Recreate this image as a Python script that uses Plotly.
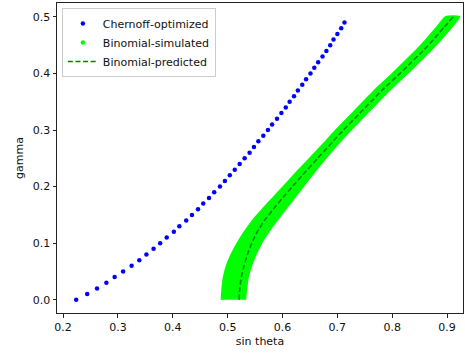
import plotly.graph_objects as go

# Chernoff-optimized
cher_gamma = [0.00, 0.01, 0.02, 0.03, 0.04, 0.05, 0.06, 0.07, 0.08, 0.09,
              0.10, 0.11, 0.12, 0.13, 0.14, 0.15, 0.16, 0.17, 0.18, 0.19,
              0.20, 0.21, 0.22, 0.23, 0.24, 0.25, 0.26, 0.27, 0.28, 0.29,
              0.30, 0.31, 0.32, 0.33, 0.34, 0.35, 0.36, 0.37, 0.38, 0.39,
              0.40, 0.41, 0.42, 0.43, 0.44, 0.45, 0.46, 0.47, 0.48, 0.49]
cher_sin = [0.224, 0.244, 0.262, 0.279, 0.294, 0.3095, 0.325, 0.339, 0.352, 0.365,
            0.377, 0.389, 0.402, 0.412, 0.4245, 0.435, 0.446, 0.4555, 0.466, 0.4755,
            0.486, 0.495, 0.504, 0.513, 0.522, 0.531, 0.540, 0.548, 0.556, 0.565,
            0.5735, 0.581, 0.590, 0.598, 0.606, 0.613, 0.621, 0.628, 0.636, 0.643,
            0.651, 0.658, 0.665, 0.673, 0.680, 0.687, 0.693, 0.700, 0.707, 0.713]

# Binomial-simulated (extent of the dense cloud of simulated points)
sim_gamma = [0.00, 0.02, 0.04, 0.06, 0.08, 0.10, 0.12, 0.14, 0.16, 0.18,
             0.20, 0.22, 0.25, 0.28, 0.30, 0.33, 0.35, 0.37, 0.40, 0.42,
             0.44, 0.46, 0.48, 0.50]
sim_left = [0.489, 0.4905, 0.493, 0.4985, 0.507, 0.518, 0.531, 0.546, 0.564, 0.583,
            0.602, 0.621, 0.650, 0.679, 0.698, 0.728, 0.748, 0.768, 0.801, 0.822,
            0.843, 0.862, 0.880, 0.898]
sim_right = [0.532, 0.534, 0.537, 0.543, 0.551, 0.561, 0.574, 0.589, 0.605, 0.621,
             0.637, 0.653, 0.678, 0.705, 0.724, 0.754, 0.774, 0.794, 0.827, 0.848,
             0.869, 0.888, 0.906, 0.922]

# Binomial-predicted
pred_gamma = sim_gamma
pred_sin = [0.521, 0.522, 0.525, 0.530, 0.536, 0.544, 0.554, 0.567, 0.583, 0.600,
            0.618, 0.636, 0.664, 0.692, 0.711, 0.741, 0.761, 0.781, 0.814, 0.835,
            0.856, 0.875, 0.893, 0.911]

x_ticks = [0.2, 0.3, 0.4, 0.5, 0.6, 0.7, 0.8, 0.9]
y_ticks = [0.0, 0.1, 0.2, 0.3, 0.4, 0.5]

FONT = "DejaVu Sans"
FS = 11

fig = go.Figure()
fig.add_trace(go.Scatter(
    x=cher_sin, y=cher_gamma, mode="markers", name="Chernoff-optimized",
    marker=dict(color="#0000ff", size=4.5, line=dict(width=0)),
))
fig.add_trace(go.Scatter(
    x=sim_left + sim_right[::-1], y=sim_gamma + sim_gamma[::-1],
    mode="lines", fill="toself", fillcolor="#00ff00",
    line=dict(color="#00ff00", width=2, shape="spline", smoothing=0.5),
    showlegend=False, hoverinfo="skip",
))
fig.add_trace(go.Scatter(
    x=[None], y=[None], mode="markers", name="Binomial-simulated",
    marker=dict(color="#00ff00", size=4.5),
))
fig.add_trace(go.Scatter(
    x=pred_sin, y=pred_gamma, mode="lines", name="Binomial-predicted",
    line=dict(color="#008000", width=1.5, dash="5px,2.6px", shape="spline", smoothing=0.5),
))

axis_common = dict(
    showgrid=False, zeroline=False, showline=True, mirror=True,
    linecolor="#222222", linewidth=1, ticks="outside", ticklen=3.5,
    tickwidth=1, tickcolor="#222222",
    tickfont=dict(family=FONT, size=FS, color="#111111"),
)

fig.update_layout(
    width=465, height=354,
    margin=dict(l=57, r=2, t=3, b=41),
    paper_bgcolor="white", plot_bgcolor="white",
    font=dict(family=FONT, size=FS, color="#111111"),
    xaxis=dict(range=[0.189, 0.929], tickvals=x_ticks,
               ticktext=[f"{v:.1f}" for v in x_ticks],
               title=dict(text="sin theta", font=dict(family=FONT, size=FS), standoff=4),
               **axis_common),
    yaxis=dict(range=[-0.0235, 0.5247], tickvals=y_ticks,
               ticktext=[f"{v:.1f}" for v in y_ticks],
               title=dict(text="gamma", font=dict(family=FONT, size=FS), standoff=6),
               **axis_common),
    legend=dict(x=0.012, y=0.984, xanchor="left", yanchor="top",
                bgcolor="rgba(255,255,255,0.8)", bordercolor="#cccccc", borderwidth=1,
                font=dict(family=FONT, size=FS, color="#111111"),
                itemwidth=30, tracegroupgap=0),
    showlegend=True,
)

fig.write_html("out.html")
